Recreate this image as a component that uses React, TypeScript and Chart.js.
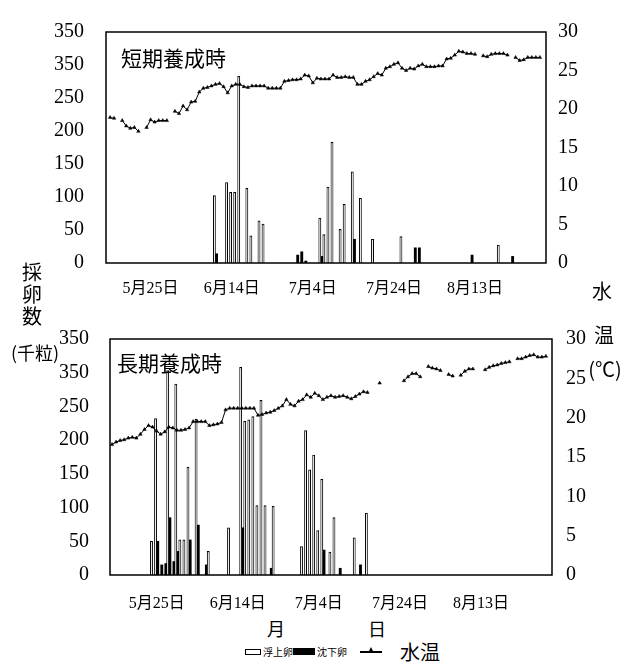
import React, { useEffect, useRef } from "react";
import { Chart, registerables } from "chart.js";

Chart.register(...registerables);

// ---- data (x = days counted from 5月14日) ----
const xTickDays = [11, 31, 51, 71, 91];
const xTickLabels = ["5月25日", "6月14日", "7月4日", "7月24日", "8月13日"];

const eggTicks = [0, 50, 100, 150, 200, 250, 300, 350];
const eggTickLabels = ["0", "50", "100", "150", "200", "250", "350", "350"];
const tempTicks = [0, 5, 10, 15, 20, 25, 30];
const tempTickLabels = ["0", "5", "10", "15", "20", "25", "30"];

// 短期養成時
const shortFloat: [number, number][] = [
  [27, 102], [30, 122], [31, 107], [32, 107], [33, 283], [35, 113], [36, 41], [38, 64], [39, 59],
  [53, 68], [54, 43], [55, 115], [56, 183], [58, 51], [59, 89], [61, 138], [63, 98], [66, 36],
  [73, 40], [97, 27],
];
const shortSink: [number, number][] = [
  [27, 14], [47, 12], [48, 17], [49, 3], [53, 10], [61, 36], [76, 23], [77, 23], [90, 12], [100, 10],
];
const shortTemp: (number | null)[] = [
  null, 18.9, 18.8, null, 18.5, 17.8, 17.5, 17.6, 17.1, null,
  17.6, 18.6, 18.3, 18.5, 18.5, 18.5, null, 19.7, 19.4, 20.4,
  19.9, 20.9, 21.0, 22.2, 22.7, 22.8, 23.0, 23.2, 23.3, 22.9,
  22.1, 23.0, 23.2, 23.2, 22.9, 22.8, 23.0, 23.0, 23.0, 23.0,
  22.7, 22.7, 22.7, 22.7, 23.6, 23.7, 23.8, 23.8, 23.9, 24.4,
  24.3, 23.4, 24.0, 23.9, 23.9, 23.9, 24.4, 24.1, 24.1, 24.2,
  24.1, 24.1, 23.2, 23.2, 23.6, 23.8, 24.2, 24.6, 24.4, 25.3,
  25.5, 25.8, 26.0, 25.3, 25.0, 25.3, 25.2, 25.6, 25.8, 25.5,
  25.5, 25.5, 25.6, 25.6, 26.5, 26.6, 27.0, 27.5, 27.4, 27.2,
  27.2, 27.1, null, 26.9, 26.8, 27.1, 27.2, 27.2, 27.2, 27.0,
  null, 26.7, 26.3, 26.4, 26.7, 26.7, 26.7, 26.7,
];

// 長期養成時
const longFloat: [number, number][] = [
  [10, 50], [11, 232], [14, 303], [16, 283], [17, 52], [18, 52], [19, 160], [21, 231], [24, 35],
  [29, 70], [32, 308], [33, 228], [34, 230], [35, 235], [36, 103], [37, 259], [38, 103], [40, 102],
  [47, 42], [48, 214], [49, 156], [50, 178], [51, 66], [52, 142], [54, 34], [55, 85], [60, 55], [63, 92],
];
const longSink: [number, number][] = [
  [11, 50], [12, 15], [13, 17], [14, 85], [15, 20], [16, 35], [19, 52], [21, 74], [23, 15],
  [32, 70], [39, 10], [52, 37], [56, 10], [61, 15],
];
const longTemp: (number | null)[] = [
  16.6, 16.9, 17.1, 17.2, 17.4, 17.5, 17.4, 17.9, 18.5, 19.0,
  18.8, 18.3, 17.9, 18.2, 18.8, 18.7, 18.4, 18.4, 18.5, 18.7,
  19.5, 19.5, 19.5, 19.5, 19.0, 19.1, 19.2, 19.4, 21.0, 21.2,
  21.2, 21.2, 21.2, 21.2, 21.2, 21.2, 20.3, 20.4, 20.6, 20.7,
  20.9, 21.2, 21.5, 22.3, 21.7, 21.5, 22.1, 22.3, 22.9, 22.6,
  23.1, 22.8, 22.3, 22.6, 22.8, 22.6, 22.7, 22.8, 22.6, 22.4,
  22.7, 23.0, 23.3, 23.2, null, null, 24.4, null, null, null,
  null, null, 24.7, 25.2, 25.6, 25.6, 25.2, null, 26.5, 26.3,
  26.2, 26.0, null, 25.5, 25.3, null, 25.4, 25.9, 26.2, 26.2,
  null, null, 26.1, 26.4, 26.6, 26.7, 26.9, 27.0, 27.1, null,
  27.5, 27.5, 27.7, 27.9, 28.0, 27.7, 27.7, 27.8,
];

const SERIF = '"Liberation Serif", "DejaVu Serif", serif';
const XFONT = '"Liberation Serif", "Noto Sans CJK JP", serif';
const CJK = '"Noto Sans CJK JP", "Noto Sans CJK SC", sans-serif';

const framePlugin = {
  id: "frame",
  afterDraw(chart: any) {
    const { ctx, chartArea: a } = chart;
    ctx.save();
    ctx.strokeStyle = "#000";
    ctx.lineWidth = 1.5;
    ctx.strokeRect(a.left, a.top, a.right - a.left, a.bottom - a.top);
    ctx.restore();
  },
};

type PanelProps = {
  top: number;
  height: number;
  padTop: number;
  leftW: number;
  rightW: number;
  bottomH: number;
  leftPad: number;
  rightPad: number;
  xPad: number;
  xMin: number;
  floatData: [number, number][];
  sinkData: [number, number][];
  temp: (number | null)[];
};

function Panel(p: PanelProps) {
  const ref = useRef<HTMLCanvasElement | null>(null);
  useEffect(() => {
    if (!ref.current) return;
    const chart = new Chart(ref.current, {
      type: "bar",
      data: {
        datasets: [
          {
            type: "bar",
            label: "浮上卵",
            data: p.floatData.map(([x, y]) => ({ x, y })),
            backgroundColor: "#fff",
            borderColor: "#000",
            borderWidth: 1,
            barThickness: 2.2,
            yAxisID: "y",
            order: 2,
          } as any,
          {
            type: "bar",
            label: "沈下卵",
            data: p.sinkData.map(([x, y]) => ({ x, y })),
            backgroundColor: "#000",
            borderWidth: 0,
            barThickness: 2.2,
            yAxisID: "y",
            order: 2,
          } as any,
          {
            type: "line",
            label: "水温",
            data: p.temp.map((v, i) => ({ x: i, y: v })),
            borderColor: "#000",
            borderWidth: 1,
            pointStyle: "triangle",
            pointRadius: 2,
            pointBackgroundColor: "#000",
            pointBorderColor: "#000",
            pointBorderWidth: 0.5,
            spanGaps: false,
            tension: 0,
            yAxisID: "y1",
            order: 1,
          } as any,
        ],
      },
      options: {
        animation: false,
        responsive: false,
        maintainAspectRatio: false,
        layout: { padding: { top: p.padTop, left: 0, right: 0, bottom: 0 } },
        plugins: { legend: { display: false }, tooltip: { enabled: false } },
        scales: {
          x: {
            type: "linear",
            offset: false,
            min: p.xMin,
            max: 108.5,
            grid: { display: false, offset: false },
            border: { display: false },
            afterBuildTicks: (s: any) => {
              s.ticks = xTickDays.map((v) => ({ value: v }));
            },
            afterFit: (s: any) => {
              s.height = p.bottomH;
            },
            ticks: {
              autoSkip: false,
              maxRotation: 0,
              padding: p.xPad,
              color: "#000",
              font: { family: XFONT, size: 16 },
              callback: (v: any) => {
                const i = xTickDays.indexOf(Number(v));
                return i >= 0 ? xTickLabels[i] : "";
              },
            },
          },
          y: {
            position: "left",
            min: 0,
            max: 350,
            grid: { display: false },
            border: { display: false },
            afterBuildTicks: (s: any) => {
              s.ticks = eggTicks.map((v) => ({ value: v }));
            },
            afterFit: (s: any) => {
              s.width = p.leftW;
            },
            ticks: {
              padding: p.leftPad,
              color: "#000",
              font: { family: SERIF, size: 20 },
              callback: (v: any) => {
                const i = eggTicks.indexOf(Number(v));
                return i >= 0 ? eggTickLabels[i] : "";
              },
            },
          },
          y1: {
            position: "right",
            min: 0,
            max: 30,
            grid: { display: false },
            border: { display: false },
            afterBuildTicks: (s: any) => {
              s.ticks = tempTicks.map((v) => ({ value: v }));
            },
            afterFit: (s: any) => {
              s.width = p.rightW;
            },
            ticks: {
              padding: p.rightPad,
              color: "#000",
              font: { family: SERIF, size: 20 },
              callback: (v: any) => {
                const i = tempTicks.indexOf(Number(v));
                return i >= 0 ? tempTickLabels[i] : "";
              },
            },
          },
        },
      } as any,
      plugins: [framePlugin],
    });
    return () => chart.destroy();
  }, []);
  return (
    <canvas
      ref={ref}
      width={634}
      height={p.height}
      style={{ position: "absolute", left: 0, top: p.top, width: 634, height: p.height }}
    />
  );
}

function Txt({ x, y, size, children, anchor = "center" }: any) {
  return (
    <div
      style={{
        position: "absolute",
        left: x,
        top: y,
        transform: anchor === "center" ? "translate(-50%, -50%)" : "translate(0, -50%)",
        fontFamily: CJK,
        fontSize: size,
        lineHeight: 1,
        whiteSpace: "nowrap",
        color: "#000",
      }}
    >
      {children}
    </div>
  );
}

export default function App() {
  return (
    <div style={{ position: "absolute", left: 0, top: 0, width: 634, height: 665, background: "#fff", overflow: "hidden" }}>
      <Panel
        top={0}
        height={300}
        padTop={32}
        leftW={106}
        rightW={88}
        bottomH={37}
        leftPad={14}
        rightPad={4}
        xPad={8}
        xMin={0}
        floatData={shortFloat}
        sinkData={shortSink}
        temp={shortTemp}
      />
      <Panel
        top={300}
        height={310}
        padTop={39}
        leftW={110}
        rightW={82}
        bottomH={35}
        leftPad={13}
        rightPad={6}
        xPad={11}
        xMin={-0.5}
        floatData={longFloat}
        sinkData={longSink}
        temp={longTemp}
      />
      <Txt x={121} y={57} size={21} anchor="left">短期養成時</Txt>
      <Txt x={117} y={362} size={21} anchor="left">長期養成時</Txt>

      <Txt x={32} y={272} size={20}>採</Txt>
      <Txt x={32} y={294} size={20}>卵</Txt>
      <Txt x={32} y={316} size={20}>数</Txt>
      <Txt x={35} y={352} size={18}>(千粒)</Txt>

      <Txt x={602} y={291} size={20}>水</Txt>
      <Txt x={604} y={335} size={20}>温</Txt>
      <Txt x={605} y={369} size={20}>(℃)</Txt>

      <Txt x={276} y={628} size={18}>月</Txt>
      <Txt x={377} y={628} size={18}>日</Txt>

      {/* legend */}
      <div style={{ position: "absolute", left: 245, top: 649, width: 14, height: 4, border: "1.5px solid #000", background: "#fff" }} />
      <Txt x={263} y={652} size={10} anchor="left">浮上卵</Txt>
      <div style={{ position: "absolute", left: 293, top: 648, width: 22, height: 7, background: "#000" }} />
      <Txt x={317} y={652} size={10} anchor="left">沈下卵</Txt>
      <div style={{ position: "absolute", left: 360, top: 651, width: 22, height: 1.5, background: "#000" }} />
      <div
        style={{
          position: "absolute",
          left: 368,
          top: 647,
          width: 0,
          height: 0,
          borderLeft: "3.5px solid transparent",
          borderRight: "3.5px solid transparent",
          borderBottom: "6px solid #000",
        }}
      />
      <Txt x={400} y={652} size={20} anchor="left">水温</Txt>
    </div>
  );
}
